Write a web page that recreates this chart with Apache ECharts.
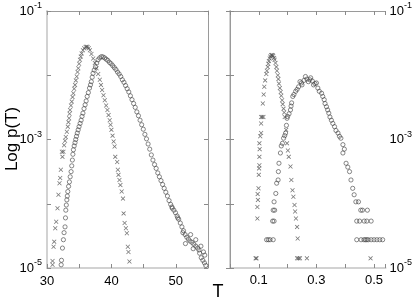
<!DOCTYPE html>
<html>
<head>
<meta charset="utf-8">
<script src="https://cdn.jsdelivr.net/npm/echarts@6/dist/echarts.min.js"></script>
<style>html,body{margin:0;padding:0;background:#fff;}#c{width:415px;height:305px;}</style>
</head>
<body>
<div id="c"></div>
<script>
// [T, log10 p(T)]
const leftCrosses = [
[30.86,-4.95],[30.86,-4.89],[31.02,-4.67],[31.12,-4.59],[31.28,-4.38],[31.43,-4.28],[31.63,-4.07],[31.78,-3.86],
[31.94,-3.68],[32.05,-3.6],[32.15,-3.47],[32.31,-3.19],[32.4,-3.27],[32.55,-3.19],[32.66,-3.09],[32.8,-3.02],
[32.92,-2.96],[33.08,-2.88],[33.23,-2.8],[33.33,-2.73],[33.43,-2.67],[33.5,-2.6],[33.58,-2.54],[33.72,-2.47],
[33.85,-2.41],[33.97,-2.34],[34.09,-2.28],[34.22,-2.21],[34.35,-2.15],[34.48,-2.08],[34.62,-2.02],[34.74,-1.95],
[34.86,-1.89],[34.99,-1.82],[35.12,-1.76],[35.25,-1.71],[35.38,-1.66],[35.58,-1.61],[35.78,-1.58],[36.0,-1.56],
[36.15,-1.555],[36.3,-1.56],[36.48,-1.58],[36.66,-1.61],[36.9,-1.67],[37.17,-1.74],[37.43,-1.81],[37.69,-1.89],
[37.95,-1.98],[38.2,-2.07],[38.38,-2.15],[38.56,-2.23],[38.77,-2.31],[38.97,-2.39],[39.18,-2.47],[39.38,-2.54],
[39.56,-2.62],[39.74,-2.7],[39.87,-2.77],[40.0,-2.85],[40.18,-2.94],[40.35,-3.03],[40.5,-3.11],[40.6,-3.27],
[40.9,-3.35],[41.0,-3.47],[41.1,-3.55],[41.25,-3.63],[41.4,-3.71],[41.6,-3.81],[41.8,-3.92],[41.9,-4.15],
[42.05,-4.3],[42.25,-4.38],[42.4,-4.46],[42.55,-4.67],[42.65,-4.75],[42.8,-4.9]
];
const leftCircles = [
[32.2,-4.95],[32.25,-4.88],[32.4,-4.69],[32.55,-4.56],[32.65,-4.45],[32.8,-4.36],[32.87,-4.22],[32.92,-4.1],
[33.0,-4.02],[33.08,-3.94],[33.15,-3.88],[33.23,-3.81],[33.35,-3.73],[33.48,-3.66],[33.6,-3.58],[33.74,-3.5],
[33.84,-3.41],[33.94,-3.32],[34.02,-3.23],[34.1,-3.16],[34.22,-3.1],[34.35,-3.05],[34.46,-3.0],[34.58,-2.95],
[34.7,-2.9],[34.84,-2.85],[34.98,-2.8],[35.14,-2.75],[35.3,-2.7],[35.44,-2.64],[35.58,-2.59],[35.75,-2.52],
[35.92,-2.46],[36.08,-2.4],[36.24,-2.33],[36.42,-2.27],[36.6,-2.2],[36.75,-2.15],[36.88,-2.1],[37.02,-2.03],
[37.15,-1.97],[37.33,-1.92],[37.52,-1.87],[37.72,-1.81],[37.92,-1.76],[38.18,-1.73],[38.45,-1.71],[38.7,-1.715],
[38.95,-1.73],[39.2,-1.75],[39.45,-1.77],[39.7,-1.8],[39.95,-1.82],[40.2,-1.85],[40.45,-1.88],[40.7,-1.91],
[40.95,-1.95],[41.2,-1.98],[41.45,-2.02],[41.7,-2.07],[41.95,-2.11],[42.2,-2.16],[42.45,-2.21],[42.7,-2.26],
[42.95,-2.32],[43.2,-2.38],[43.45,-2.44],[43.7,-2.5],[43.95,-2.57],[44.2,-2.63],[44.45,-2.7],[44.7,-2.77],
[44.95,-2.84],[45.2,-2.92],[45.45,-2.99],[45.7,-3.07],[45.95,-3.15],[46.2,-3.24],[46.45,-3.32],[46.7,-3.39],
[46.95,-3.45],[47.2,-3.52],[47.45,-3.58],[47.7,-3.64],[47.95,-3.7],[48.2,-3.76],[48.45,-3.82],[48.7,-3.88],
[48.95,-3.95],[49.2,-4.01],[49.45,-4.07],[49.7,-4.1],[49.95,-4.14],[50.2,-4.19],[50.45,-4.24],[50.7,-4.3],
[50.95,-4.36],[51.2,-4.42],[51.45,-4.48],[51.7,-4.52],[51.95,-4.55],[52.2,-4.58],[52.5,-4.6],[52.8,-4.63],
[53.1,-4.66],[53.4,-4.69],[53.7,-4.77],[53.95,-4.84],[54.2,-4.88],[54.45,-4.92],[54.65,-4.96],
[49.4,-4.05],[50.3,-4.22],[51.1,-4.45],[51.5,-4.62],[52.3,-4.48],[53.1,-4.56],[53.6,-4.72],[54.5,-4.8],
[52.7,-4.7],[53.9,-4.66],[54.3,-4.75]
];
const rightCrosses = [
[0.089,-4.85],[0.092,-4.85],[0.095,-4.23],[0.095,-4.05],[0.097,-3.94],[0.096,-3.85],[0.099,-3.76],[0.1,-3.55],
[0.101,-3.45],[0.102,-3.4],[0.102,-3.27],[0.103,-3.15],[0.102,-3.06],[0.105,-2.95],[0.108,-2.9],[0.108,-2.75],
[0.108,-2.65],[0.112,-2.65],[0.116,-2.65],[0.114,-2.44],[0.117,-2.3],[0.119,-2.18],[0.122,-2.08],[0.126,-1.98],
[0.131,-1.87],[0.135,-1.78],[0.14,-1.71],[0.145,-1.685],[0.15,-1.7],[0.155,-1.76],[0.161,-1.87],[0.166,-2.0],
[0.17,-2.13],[0.176,-2.26],[0.181,-2.39],[0.186,-2.52],[0.19,-2.65],[0.195,-2.85],[0.198,-3.06],[0.201,-3.17],
[0.204,-3.27],[0.21,-3.42],[0.213,-3.63],[0.217,-3.79],[0.22,-3.89],[0.224,-4.02],[0.226,-4.12],[0.229,-4.23],
[0.233,-4.36],[0.235,-4.54],[0.233,-4.85],[0.238,-4.85],[0.243,-4.85],[0.267,-4.85],[0.488,-4.85],
[0.128,-1.93],[0.133,-1.82],[0.138,-1.74],[0.143,-1.69],[0.148,-1.69],[0.153,-1.73],[0.158,-1.81],[0.163,-1.93],
[0.168,-2.06],[0.173,-2.2],[0.178,-2.32],[0.183,-2.45],[0.188,-2.58]
];
const rightCircles = [
[0.127,-4.56],[0.133,-4.56],[0.139,-4.56],[0.15,-4.56],[0.148,-4.27],[0.153,-4.27],[0.15,-4.1],[0.155,-4.1],
[0.153,-3.97],[0.159,-3.84],[0.162,-3.68],[0.167,-3.63],[0.168,-3.5],[0.17,-3.37],[0.175,-3.21],[0.178,-3.1],
[0.182,-3.06],[0.186,-2.98],[0.193,-2.9],[0.196,-2.78],[0.198,-2.67],[0.205,-2.6],[0.21,-2.54],[0.214,-2.43],
[0.218,-2.33],[0.228,-2.25],[0.238,-2.18],[0.248,-2.12],[0.257,-2.08],[0.267,-2.06],[0.277,-2.07],[0.286,-2.09],
[0.295,-2.13],[0.305,-2.2],[0.318,-2.28],[0.327,-2.38],[0.335,-2.49],[0.343,-2.59],[0.352,-2.7],[0.363,-2.8],
[0.375,-2.9],[0.385,-2.98],[0.392,-3.08],[0.397,-3.15],[0.392,-3.21],[0.403,-3.37],[0.409,-3.43],[0.415,-3.5],
[0.42,-3.63],[0.426,-3.76],[0.431,-3.86],[0.437,-3.97],[0.446,-3.97],[0.454,-4.1],[0.46,-4.1],[0.477,-4.1],
[0.466,-4.27],[0.475,-4.27],[0.49,-4.27],[0.45,-4.27],[0.44,-4.27],
[0.44,-4.56],[0.455,-4.56],[0.465,-4.56],[0.47,-4.56],[0.475,-4.56],[0.48,-4.56],[0.49,-4.56],[0.5,-4.56],
[0.51,-4.56],[0.52,-4.56],[0.53,-4.56],
[0.262,-2.02],[0.272,-2.1],[0.28,-2.04],[0.29,-2.15],[0.25,-2.15],[0.3,-2.12],[0.31,-2.25],[0.322,-2.33],
[0.33,-2.44],[0.339,-2.54],[0.347,-2.65],[0.357,-2.75],[0.368,-2.86],[0.38,-2.95],[0.243,-2.1],[0.233,-2.22],
[0.222,-2.3],[0.212,-2.48],[0.2,-2.64],[0.19,-2.94]
];
const xTickLabelsLeft = ['30', '40', '50'];
const xTickLabelsRight = ['0.1', '0.3', '0.5'];
const yTickLabels = { '-1': '-1', '-3': '-3', '-5': '-5' };

const chart = echarts.init(document.getElementById('c'), null, { renderer: 'canvas' });
const FONT = 'Liberation Sans, Arial, Helvetica, sans-serif';
const crossPath = 'path://M0,1.2L1.2,0L5,3.8L8.8,0L10,1.2L6.2,5L10,8.8L8.8,10L5,6.2L1.2,10L0,8.8L3.8,5Z';

function yLab(v) {
  const k = String(Math.round(v));
  if (yTickLabels[k] === undefined) return '';
  return '{a|10}{b|' + yTickLabels[k] + '}';
}
const yRich = {
  a: { fontSize: 13, fontFamily: FONT, color: '#000' },
  b: { fontSize: 9, fontFamily: FONT, color: '#000', padding: [0, 0, 10, 0] }
};
function xLabLeft(v) {
  const s = String(Math.round(v));
  return xTickLabelsLeft.indexOf(s) >= 0 && Math.abs(v - Math.round(v)) < 1e-6 ? s : '';
}
function xLabRight(v) {
  const t = v * 10;
  if (Math.abs(t - Math.round(t)) > 1e-6) return '';
  const s = (Math.round(t) / 10).toFixed(1);
  return xTickLabelsRight.indexOf(s) >= 0 ? s : '';
}
const lightLine = { lineStyle: { color: '#d2d2d2', width: 2 } };
const darkLine = { lineStyle: { color: '#9a9a9a', width: 1 } };
const tick = { inside: true, length: 4, lineStyle: { color: '#8a8a8a', width: 1 } };

const option = {
  animation: false,
  backgroundColor: '#fff',
  grid: [
    { left: 47, top: 11, width: 161, height: 257 },
    { left: 230, top: 11, width: 158, height: 257 }
  ],
  xAxis: [
    { type: 'value', gridIndex: 0, position: 'bottom', min: 30, max: 55, interval: 5,
      axisLine: lightLine, axisTick: tick, splitLine: { show: false },
      axisLabel: { formatter: xLabLeft, fontSize: 13, fontFamily: FONT, color: '#000', margin: 7, showMaxLabel: true, showMinLabel: true } },
    { type: 'value', gridIndex: 0, position: 'top', min: 30, max: 55, interval: 5,
      axisLine: darkLine, axisTick: tick, splitLine: { show: false }, axisLabel: { show: false } },
    { type: 'value', gridIndex: 1, position: 'bottom', min: 0, max: 0.54, interval: 0.1,
      axisLine: lightLine, axisTick: tick, splitLine: { show: false },
      axisLabel: { formatter: xLabRight, fontSize: 13, fontFamily: FONT, color: '#000', margin: 6 } },
    { type: 'value', gridIndex: 1, position: 'top', min: 0, max: 0.54, interval: 0.1,
      axisLine: darkLine, axisTick: tick, splitLine: { show: false }, axisLabel: { show: false } }
  ],
  yAxis: [
    { type: 'value', gridIndex: 0, position: 'left', min: -5, max: -1, interval: 1,
      axisLine: lightLine, axisTick: tick, splitLine: { show: false },
      axisLabel: { formatter: yLab, rich: yRich, margin: 5 } },
    { type: 'value', gridIndex: 0, position: 'right', min: -5, max: -1, interval: 1,
      axisLine: darkLine, axisTick: tick, splitLine: { show: false }, axisLabel: { show: false } },
    { type: 'value', gridIndex: 1, position: 'left', min: -5, max: -1, interval: 1,
      axisLine: lightLine, axisTick: tick, splitLine: { show: false }, axisLabel: { show: false } },
    { type: 'value', gridIndex: 1, position: 'right', min: -5, max: -1, interval: 1,
      axisLine: darkLine, axisTick: tick, splitLine: { show: false },
      axisLabel: { formatter: yLab, rich: yRich, margin: 4 } }
  ],
  series: [
    { type: 'scatter', xAxisIndex: 0, yAxisIndex: 0, data: leftCrosses, symbol: crossPath, symbolSize: 4.5,
      itemStyle: { color: '#555' }, emphasis: { disabled: true } },
    { type: 'scatter', xAxisIndex: 0, yAxisIndex: 0, data: leftCircles, symbol: 'circle', symbolSize: 4.2,
      itemStyle: { color: 'rgba(0,0,0,0)', borderColor: '#444', borderWidth: 0.8 }, emphasis: { disabled: true } },
    { type: 'scatter', xAxisIndex: 2, yAxisIndex: 2, data: rightCrosses, symbol: crossPath, symbolSize: 4.5,
      itemStyle: { color: '#555' }, emphasis: { disabled: true } },
    { type: 'scatter', xAxisIndex: 2, yAxisIndex: 2, data: rightCircles, symbol: 'circle', symbolSize: 4.2,
      itemStyle: { color: 'rgba(0,0,0,0)', borderColor: '#444', borderWidth: 0.8 }, emphasis: { disabled: true } }
  ],
  graphic: [
    { type: 'text', x: 12, y: 139, rotation: Math.PI / 2,
      style: { text: 'Log p(T)', font: '17px ' + FONT, fill: '#000', align: 'center', verticalAlign: 'middle' } },
    { type: 'text', x: 218, y: 292,
      style: { text: 'T', font: '18px ' + FONT, fill: '#000', align: 'center', verticalAlign: 'middle' } }
  ]
};
chart.setOption(option);
</script>
</body>
</html>
